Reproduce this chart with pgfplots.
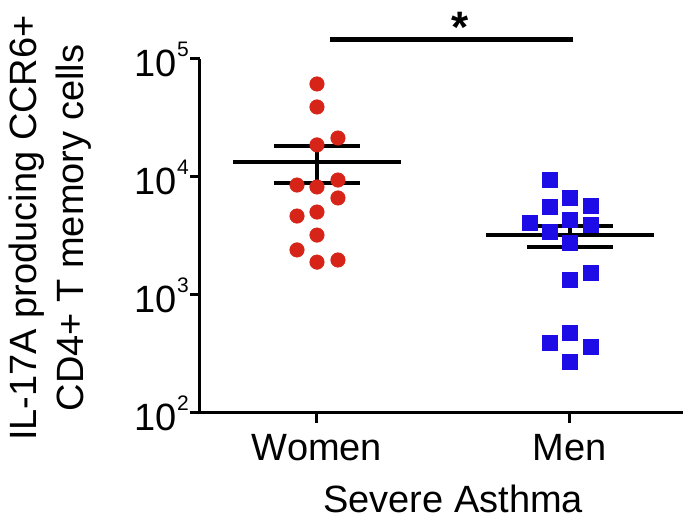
\documentclass[border=0pt]{standalone}
\usepackage{pgfplots}
\pgfplotsset{compat=1.18}
\usepackage{fontspec}
\setmainfont{Liberation Sans}
\definecolor{dotred}{RGB}{214,36,24}
\definecolor{sqblue}{RGB}{30,12,230}
\newcommand{\tl}[1]{\fontsize{38}{42}\selectfont 10\raisebox{20pt}{\fontsize{21}{21}\selectfont #1}}
\pgfplotstableread{
x y
1 61400
1 39200
1 18700
1.083 21400
0.921 8550
1 8230
1.083 9430
1.083 6640
0.921 4670
1 5050
1 3220
0.921 2410
1 1900
1.083 1980
}\women
\pgfplotstableread{
x y
1.921 9430
1.921 5570
2 6640
2.083 5680
1.842 4080
2 4320
2.083 3920
1.921 3420
2 2760
2.083 1540
2 1340
2 476
1.921 392
2.083 363
2 271
}\men
\begin{document}
\begin{tikzpicture}
\begin{axis}[
  name=ax,
  scale only axis, width=483pt, height=354pt,
  ymode=log, ymin=100, ymax=100000,
  xmin=0.5375, xmax=2.447,
  axis lines*=left,
  axis line style={line width=3pt},
  clip=false,
  xtick={1,2}, xticklabels={Women,Men},
  ytick={100,1000,10000,100000},
  yticklabels={\tl{2},\tl{3},\tl{4},\tl{5}},
  yminorticks=false,
  tick align=outside,
  major tick length=10pt,
  tick style={line width=3pt, black},
  xticklabel style={font=\fontsize{38}{42}\selectfont, yshift=-8pt},
  yticklabel style={inner sep=0pt, xshift=-1pt},
  xlabel={Severe Asthma},
  xlabel style={at={(axis description cs:0.524,-0.2797)}, anchor=base, font=\fontsize{38}{42}\selectfont},
  ylabel={IL-17A producing CCR6+\\CD4+ T memory cells},
  ylabel style={at={(axis description cs:-0.3106,0.5226)}, anchor=center, align=center, font=\fontsize{38}{47}\selectfont},
]
\addplot[only marks, mark=*, mark size=7.3pt, draw=dotred, fill=dotred] table[x=x,y=y] {\women};
\addplot[only marks, mark=square*, mark size=7.5pt, draw=sqblue, fill=sqblue] table[x=x,y=y] {\men};
% Women mean and SEM
\addplot[black, line width=3.5pt] coordinates {(0.668,13400) (1.332,13400)};
\addplot[black, line width=3.5pt] coordinates {(0.83,18300) (1.17,18300)};
\addplot[black, line width=3.5pt] coordinates {(0.83,8890) (1.17,8890)};
\addplot[black, line width=3.5pt] coordinates {(1,18300) (1,8890)};
% Men mean and SEM
\addplot[black, line width=3.5pt] coordinates {(1.668,3220) (2.332,3220)};
\addplot[black, line width=3.5pt] coordinates {(1.83,3840) (2.17,3840)};
\addplot[black, line width=3.5pt] coordinates {(1.83,2550) (2.17,2550)};
\addplot[black, line width=3.5pt] coordinates {(2,3840) (2,2550)};
% significance bar
\addplot[black, line width=5pt] coordinates {(1.051,145000) (2.012,145000)};
\node[anchor=center, font=\fontsize{44}{44}\selectfont\bfseries] at (axis cs:1.565,186700) {*};
\end{axis}
\pgfresetboundingbox
\path[use as bounding box] ([shift={(-200pt,-107pt)}]ax.south west) rectangle ([shift={(483pt,413pt)}]ax.south west);
\end{tikzpicture}
\end{document}
